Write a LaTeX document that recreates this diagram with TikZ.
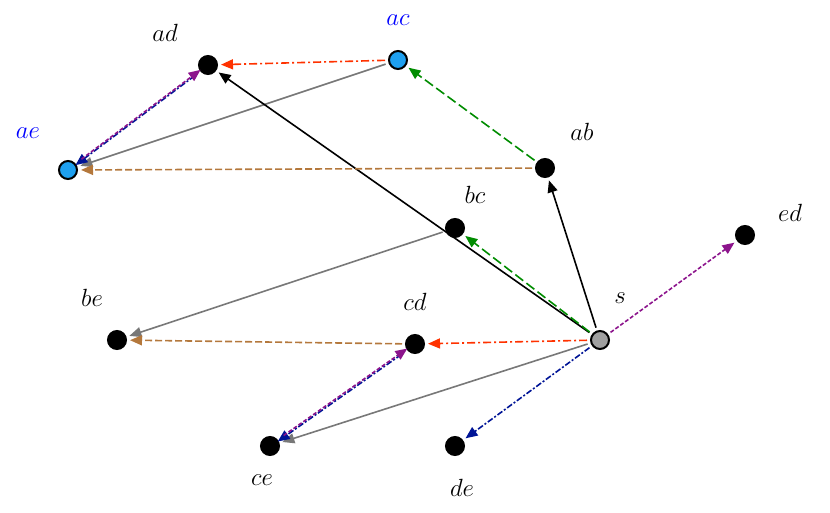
\documentclass[tikz,border=0pt]{standalone}
\usetikzlibrary{arrows.meta}
\begin{document}
\begin{tikzpicture}[x=1pt,y=-1pt,
 v/.style={circle,draw=black,line width=2pt,fill=black,minimum size=18pt,inner sep=0pt},
 lab/.style={font=\fontsize{30}{34}\selectfont},
 e/.style={line width=1.6pt,-{Triangle[length=12pt,width=10pt]},shorten >=3pt,shorten <=3pt},
 cred/.style={e,color={rgb,255:red,255;green,50;blue,0},dash pattern=on 8pt off 3pt on 2pt off 3pt},
 cgreen/.style={e,color={rgb,255:red,0;green,140;blue,0},dash pattern=on 10pt off 4pt},
 cgray/.style={e,color={rgb,255:red,120;green,120;blue,120}},
 cblack/.style={e,color=black},
 cbrown/.style={e,color={rgb,255:red,180;green,120;blue,60},dash pattern=on 7pt off 3pt},
 cblue/.style={e,color={rgb,255:red,0;green,20;blue,150},dash pattern=on 6pt off 2pt on 2pt off 2pt},
 cpurp/.style={e,color={rgb,255:red,140;green,20;blue,140},dash pattern=on 4pt off 2pt}]
\useasboundingbox (0,0) rectangle (830,512);
\node[v] (ad) at (208,65) {};
\node[v,fill={rgb,255:red,30;green,160;blue,240}] (ac) at (398,60) {};
\node[v,fill={rgb,255:red,30;green,160;blue,240}] (ae) at (68,170) {};
\node[v] (ab) at (545,168) {};
\node[v] (bc) at (455,228) {};
\node[v] (ed) at (745,235) {};
\node[v] (be) at (117,340) {};
\node[v] (cd) at (415,344) {};
\node[v,fill={rgb,255:red,160;green,160;blue,160}] (s) at (600,340) {};
\node[v] (ce) at (270,446) {};
\node[v] (de) at (455,446) {};
\node[lab] (lad) at (165,33) {$ad$};
\node[lab,blue] (lac) at (398,20) {$ac$};
\node[lab,blue] (lae) at (28,133) {$ae$};
\node[lab] (lab1) at (582,132) {$ab$};
\node[lab] (lbc) at (475,195) {$bc$};
\node[lab] (led) at (790,213) {$ed$};
\node[lab] (lbe) at (92,298) {$be$};
\node[lab] (lcd) at (415,302) {$cd$};
\node[lab] (ls) at (620,298) {$s$};
\node[lab] (lce) at (262,480) {$ce$};
\node[lab] (lde) at (462,488) {$de$};
\draw[cred] (ac) -- (ad);
\draw[cgreen] (ab) -- (ac);
\draw[cgray] (ac) -- (ae);
\draw[cblack] (s) -- (ad);
\draw[cblack] (s) -- (ab);
\draw[cgreen] (s) -- (bc);
\draw[cbrown] (ab) -- (ae);
\draw[cgray] (bc) -- (be);
\draw[cred] (s) -- (cd);
\draw[cbrown] (cd) -- (be);
\draw[cgray] (s) -- (ce);
\draw[cblue] (s) -- (de);
\draw[cpurp] (s) -- (ed);
\draw[cblue,transform canvas={shift={(-3pt,-3pt)}}] (ad) -- (ae);
\draw[cpurp,transform canvas={shift={(3pt,3pt)}}] (ae) -- (ad);
\draw[cblue,transform canvas={shift={(-3pt,-3pt)}}] (cd) -- (ce);
\draw[cpurp,transform canvas={shift={(3pt,3pt)}}] (ce) -- (cd);
\end{tikzpicture}
\end{document}
